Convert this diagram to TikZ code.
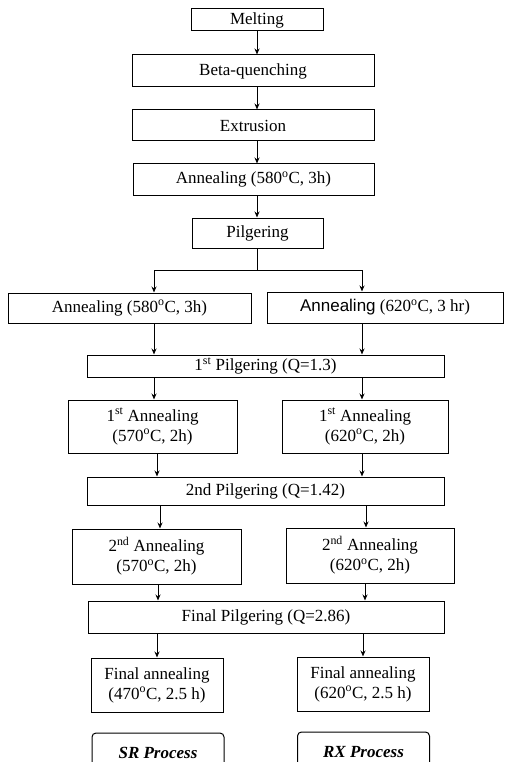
\documentclass[tikz,border=0pt]{standalone}
\usepackage{fontspec}
\setmainfont{Liberation Serif}
\setsansfont{Liberation Sans}
\usetikzlibrary{arrows.meta}
\begin{document}
\begin{tikzpicture}[x=1pt,y=-1pt,>={Stealth[length=6pt,width=5pt]},line width=1pt,
  pbox/.style 2 args={draw,inner sep=0pt,align=center,minimum width=#1,minimum height=#2,
    font=\fontsize{17}{20}\selectfont},
  endbox/.style={draw,rounded corners=4pt,inner sep=0pt,minimum width=132pt,minimum height=40pt,
    font=\fontsize{17}{20}\selectfont\bfseries\itshape}]
\useasboundingbox (0,0) rectangle (504,762);
\clip (0,0) rectangle (504,762);

% main line
\node[pbox={132pt}{22pt}] (melt) at (257,20) {Melting};
\node[pbox={242pt}{32pt}] (beta) at (253,71) {Beta-quenching};
\node[pbox={242pt}{31pt}] (extr) at (253,125.5) {Extrusion};
\node[pbox={241pt}{31pt}] (ann) at (253.5,179.5) {Annealing (580\textsuperscript{o}C, 3h)};
\node[pbox={131pt}{30pt}] (pilg) at (257.5,233) {Pilgering};

% two branches
\node[pbox={243pt}{30pt}] (annL) at (129.5,308) {Annealing (580\textsuperscript{o}C, 3h)};
\node[pbox={236pt}{31pt}] (annR) at (385,307.5) {{\sffamily Annealing} (620\textsuperscript{o}C, 3 hr)};
\node[pbox={357pt}{22pt}] (pilgA) at (265.5,366) {1\textsuperscript{st} Pilgering (Q=1.3)};
\node[pbox={169pt}{53pt}] (annAL) at (152.5,426.5) {1\textsuperscript{st} Annealing\\(570\textsuperscript{o}C, 2h)};
\node[pbox={166pt}{53pt}] (annAR) at (365,426.5) {1\textsuperscript{st} Annealing\\(620\textsuperscript{o}C, 2h)};
\node[pbox={357pt}{28pt}] (pilgB) at (265.5,491) {2nd Pilgering (Q=1.42)};
\node[pbox={169pt}{55pt}] (annBL) at (156.5,556.5) {2\textsuperscript{nd} Annealing\\(570\textsuperscript{o}C, 2h)};
\node[pbox={168pt}{55pt}] (annBR) at (370,555.5) {2\textsuperscript{nd} Annealing\\(620\textsuperscript{o}C, 2h)};
\node[pbox={356pt}{32pt}] (pilgF) at (266,617) {Final Pilgering (Q=2.86)};
\node[pbox={132pt}{54pt}] (finL) at (157,685) {Final annealing\\(470\textsuperscript{o}C, 2.5 h)};
\node[pbox={132pt}{54pt}] (finR) at (363,684) {Final annealing\\(620\textsuperscript{o}C, 2.5 h)};
\node[endbox] (sr) at (158,753) {SR Process};
\node[endbox] (rx) at (363.5,752) {RX Process};

% arrows
\draw[->] (melt.south) -- (melt.south |- beta.north);
\draw[->] (beta.south -| melt) -- (extr.north -| melt);
\draw[->] (extr.south -| melt) -- (ann.north -| melt);
\draw[->] (ann.south -| melt) -- (pilg.north -| melt);
\coordinate (split) at (257,270);
\draw (pilg.south -| split) -- (split);
\draw[->] (split) -| (annL.north -| 154,0);
\draw[->] (split) -| (annR.north -| 362,0);
\draw[->] (annL.south -| 154,0) -- (pilgA.north -| 154,0);
\draw[->] (annR.south -| 362,0) -- (pilgA.north -| 362,0);
\draw[->] (pilgA.south -| 154,0) -- (annAL.north -| 154,0);
\draw[->] (pilgA.south -| 362,0) -- (annAR.north -| 362,0);
\draw[->] (annAL.south -| 157,0) -- (pilgB.north -| 157,0);
\draw[->] (annAR.south -| 362,0) -- (pilgB.north -| 362,0);
\draw[->] (pilgB.south -| 160,0) -- (annBL.north -| 160,0);
\draw[->] (pilgB.south -| 366,0) -- (annBR.north -| 366,0);
\draw[->] (annBL.south -| 158,0) -- (pilgF.north -| 158,0);
\draw[->] (annBR.south -| 365,0) -- (pilgF.north -| 365,0);
\draw[->] (pilgF.south -| 157,0) -- (finL.north -| 157,0);
\draw[->] (pilgF.south -| 363,0) -- (finR.north -| 363,0);

\end{tikzpicture}
\end{document}
